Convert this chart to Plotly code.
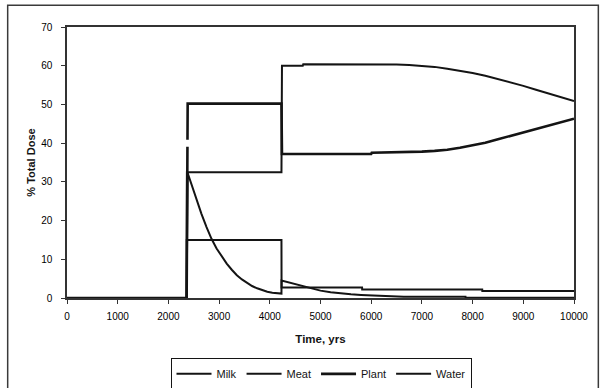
import plotly.graph_objects as go

# Time (years) and % of total dose for each exposure pathway
milk_t = [0, 2360, 2362, 4230, 4232, 5820, 5822, 8190, 8192, 10000]
milk_v = [0, 0, 15.0, 15.0, 2.7, 2.7, 2.2, 2.2, 1.8, 1.8]

meat_t = [0, 2360, 2380, 2450, 2550, 2650, 2750, 2850, 2950, 3050, 3150, 3250,
          3350, 3450, 3550, 3650, 3750, 3850, 3950, 4050, 4150, 4230, 4232,
          4400, 4600, 4800, 5000, 5200, 5400, 5600, 5800, 6000, 6300, 6640,
          6642, 7860, 7862, 10000]
meat_v = [0, 0, 32.3, 29.5, 25.5, 21.8, 18.4, 15.3, 12.8, 10.7, 8.9, 7.3,
          5.9, 4.8, 3.9, 3.1, 2.5, 2.0, 1.6, 1.35, 1.2, 1.15, 4.5,
          3.9, 3.2, 2.5, 1.9, 1.5, 1.2, 0.95, 0.8, 0.7, 0.55, 0.45,
          0.3, 0.3, 0.05, 0.05]

plant_t = [0, 2360, 2380, 4230, 4240, 5000, 6000, 6010, 6500, 7000, 7250,
           7500, 7750, 8000, 8250, 8500, 8750, 9000, 9250, 9500, 9750, 10000]
plant_v = [0, 0, 50.2, 50.2, 37.2, 37.2, 37.2, 37.5, 37.6, 37.8, 38.0,
           38.3, 38.8, 39.4, 40.1, 41.0, 41.9, 42.8, 43.7, 44.6, 45.5, 46.3]

water_t = [0, 2360, 2365, 4230, 4240, 4650, 4660, 6000, 6250, 6500, 6750,
           7000, 7250, 7500, 7750, 8000, 8250, 8500, 8750, 9000, 9250, 9500,
           9750, 10000]
water_v = [0, 0, 32.5, 32.5, 60.0, 60.0, 60.4, 60.4, 60.4, 60.3, 60.2,
           60.0, 59.7, 59.2, 58.7, 58.1, 57.4, 56.6, 55.7, 54.8, 53.8, 52.8,
           51.8, 50.9]

x_ticks = list(range(0, 10001, 1000))
y_ticks = list(range(0, 71, 10))

INK = "#141414"
FONT = "Liberation Sans, Arial, sans-serif"

fig = go.Figure()
fig.add_trace(go.Scatter(x=milk_t, y=milk_v, name="Milk", mode="lines",
                         line=dict(color=INK, width=2)))
fig.add_trace(go.Scatter(x=meat_t, y=meat_v, name="Meat", mode="lines",
                         line=dict(color=INK, width=2)))
fig.add_trace(go.Scatter(x=plant_t, y=plant_v, name="Plant", mode="lines",
                         line=dict(color=INK, width=2.6, dash="271px,7px,3000px,7px")))
fig.add_trace(go.Scatter(x=water_t, y=water_v, name="Water", mode="lines",
                         line=dict(color=INK, width=2)))

# outer chart frame
fig.add_shape(type="rect", xref="paper", yref="paper",
              x0=-0.117, x1=1.048, y0=-0.348, y1=1.080,
              line=dict(color="#3a3a3a", width=1.5), layer="below")

fig.update_layout(
    width=600, height=388,
    margin=dict(l=66.5, r=25.5, t=26.7, b=90.3, autoexpand=False),
    paper_bgcolor="white", plot_bgcolor="white",
    font=dict(family=FONT, size=10, color=INK),
    showlegend=True,
    legend=dict(orientation="h", x=0.501, xanchor="center", y=-0.337, yanchor="bottom",
                bgcolor="white", bordercolor=INK, borderwidth=1,
                font=dict(size=11, family=FONT, color=INK),
                itemwidth=35, tracegroupgap=0),
    xaxis=dict(range=[0, 10000], tickvals=x_ticks, ticktext=[str(v) for v in x_ticks],
               showgrid=False, zeroline=False, showline=True, linecolor="#333",
               linewidth=1.5, mirror=True, ticks="outside", ticklen=4,
               tickcolor="#333", tickfont=dict(size=10, family=FONT, color="#000"),
               ticklabelstandoff=4,
               title=dict(text="<b>Time, yrs</b>", font=dict(size=11.5, family=FONT),
                          standoff=14)),
    yaxis=dict(range=[0, 70], tickvals=y_ticks, showgrid=False, zeroline=False,
               showline=True, linecolor="#333", linewidth=1.5, mirror=True,
               ticks="outside", ticklen=4, tickcolor="#333",
               tickfont=dict(size=10, family=FONT, color="#000"), ticklabelstandoff=7,
               title=dict(text="<b>% Total Dose</b>", font=dict(size=11, family=FONT),
                          standoff=3)),
)

fig.write_html("out.html")
